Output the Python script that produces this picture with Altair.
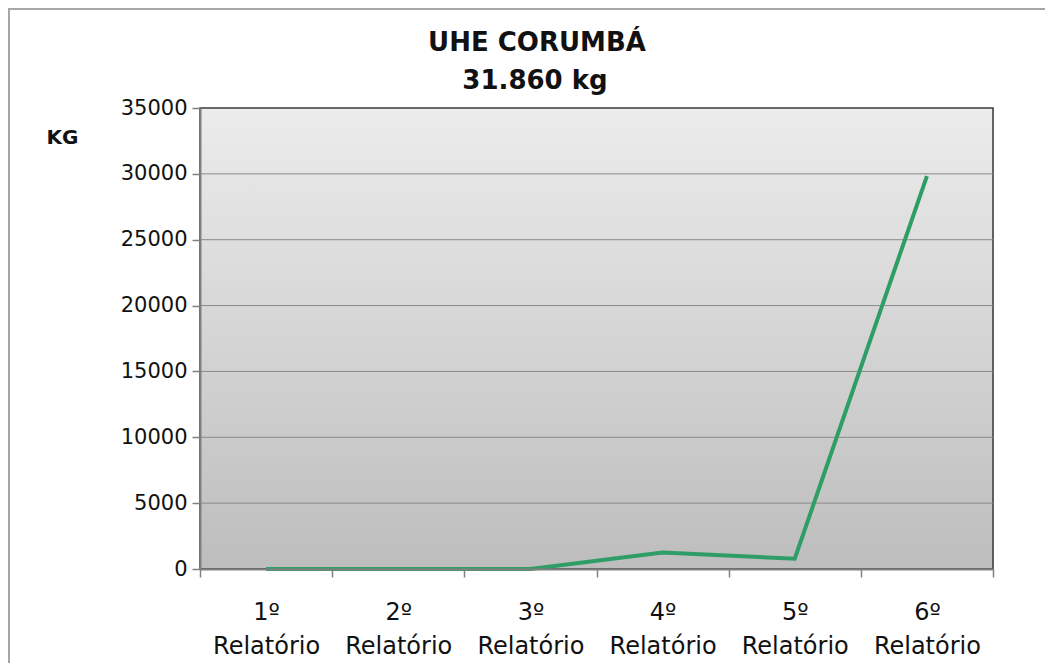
import altair as alt
import pandas as pd

categories = ["1º Relatório", "2º Relatório", "3º Relatório", "4º Relatório", "5º Relatório", "6º Relatório"]
values = [0, 0, 0, 1250, 780, 29830]
y_ticks = [0, 5000, 10000, 15000, 20000, 25000, 30000, 35000]
title_lines = ["UHE CORUMBÁ", "31.860 kg"]

df = pd.DataFrame({"cat": categories, "kg": values})
grid_df = pd.DataFrame({"kg": y_ticks[1:-1]})
one = pd.DataFrame({"a": [0]})

W, H = 793, 461
FONT = "DejaVu Sans"

x_enc = alt.X("cat:N", sort=categories,
              scale=alt.Scale(type="band", paddingInner=0, paddingOuter=0),
              axis=alt.Axis(title=None, labelAngle=0, labelExpr="split(datum.label, ' ')",
                            labelFontSize=24, labelLineHeight=34, labelPadding=23,
                            tickBand="extent", tickSize=8, tickColor="#808080", tickWidth=1.5,
                            domainColor="#808080", domainWidth=2, labelColor="#111",
                            labelFont=FONT, grid=False, zindex=1))
y_scale = alt.Scale(domain=[0, 35000], nice=False)
y_axis = alt.Axis(values=y_ticks, format="d", title="KG", titleAngle=0, titleX=-138, titleY=29,
                  titleAlign="center", titleBaseline="middle", titleFontSize=20,
                  titleFontWeight="bold", titleFont=FONT, titleColor="#111",
                  labelFontSize=21, labelFont=FONT, labelColor="#111", labelPadding=5,
                  tickSize=8, tickColor="#808080", tickWidth=1.5,
                  domainColor="#808080", domainWidth=2, grid=False, zindex=1)

bg = alt.Chart(one).mark_rect(
    color=alt.LinearGradient(gradient="linear", x1=0, y1=0, x2=0, y2=1,
                             stops=[alt.GradientStop(color="#ececec", offset=0),
                                    alt.GradientStop(color="#bdbdbd", offset=1)]),
    stroke="#3a3a3a", strokeWidth=1.5,
).encode(x=alt.value(0), x2=alt.value(W), y=alt.value(0), y2=alt.value(H))

grid = alt.Chart(grid_df).mark_rule(color="#8a8a8a", strokeWidth=1).encode(
    y=alt.Y("kg:Q", scale=y_scale, axis=y_axis)
)

line = alt.Chart(df).mark_line(color="#2e9e66", strokeWidth=4).encode(
    x=x_enc,
    y=alt.Y("kg:Q", scale=y_scale, axis=y_axis),
)

border = alt.Chart(one).mark_rule(color="#a6a6a6", strokeWidth=2).encode(
    x=alt.value(-191), x2=alt.value(-191), y=alt.value(-100), y2=alt.value(H + 94)
)
border_top = alt.Chart(one).mark_rule(color="#a6a6a6", strokeWidth=2).encode(
    x=alt.value(-191), x2=alt.value(W + 52), y=alt.value(-99), y2=alt.value(-99)
)

t1 = alt.Chart(pd.DataFrame({"t": [title_lines[0]]})).mark_text(
    font=FONT, fontSize=26, fontWeight="bold", color="#111", baseline="middle", align="center"
).encode(text="t:N", x=alt.value(337), y=alt.value(-65))
t2 = alt.Chart(pd.DataFrame({"t": [title_lines[1]]})).mark_text(
    font=FONT, fontSize=26, fontWeight="bold", color="#111", baseline="middle", align="center"
).encode(text="t:N", x=alt.value(335), y=alt.value(-27))

chart = alt.layer(bg, grid, line, border, border_top, t1, t2).properties(
    width=W, height=H,
    autosize=alt.AutoSizeParams(type="none"),
    padding={"left": 192, "top": 100, "right": 52, "bottom": 94},
).configure_view(
    stroke=None,
).configure(background="white")

chart.save("out.html", embed_options={"renderer": "svg", "actions": False})
